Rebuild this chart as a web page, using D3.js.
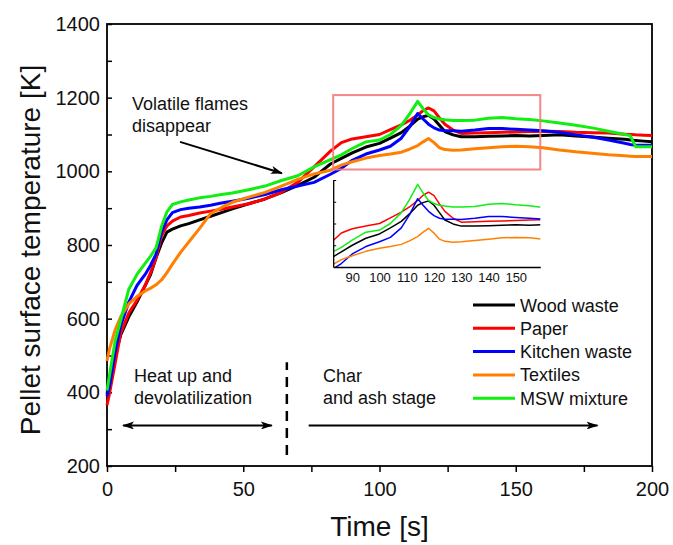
<!DOCTYPE html>
<html><head><meta charset="utf-8">
<script src="https://cdn.jsdelivr.net/npm/d3@7"></script>
<style>
body{margin:0;background:#fff}
svg{display:block}
text{font-family:Arial,"Liberation Sans",sans-serif;fill:#111}
</style>
</head><body>
<svg id="chart" width="673" height="545"></svg>
<script>
// ---- data ----
const times = [0,1,3,5,8,11,14,16,18,20,22,24,27,30,34,38,42,46,52,58,64,70,76,82,86,90,95,100,104,108,111,114,116,118,120,122,124,127,130,135,140,145,150,155,160,166,172,178,184,190,192,194,197,200];
const woodWaste = [395,430,500,555,605,645,690,720,765,805,835,843,852,858,868,878,888,898,912,925,942,962,984,1020,1035,1050,1066,1076,1090,1105,1122,1142,1148,1152,1142,1125,1108,1099,1094,1094,1095,1096,1097,1096,1097,1099,1096,1093,1090,1087,1085,1084,1082,1080];
const paper = [365,400,480,560,615,650,690,725,765,825,852,865,876,880,887,892,897,903,912,925,943,970,1012,1055,1078,1088,1094,1100,1113,1126,1138,1153,1165,1172,1164,1145,1128,1112,1103,1104,1105,1106,1107,1108,1109,1108,1106,1105,1104,1101,1100,1099,1098,1097];
const kitchenWaste = [390,420,510,580,645,690,720,745,775,835,868,888,896,900,903,908,914,919,927,937,950,960,970,992,1008,1030,1047,1058,1068,1090,1120,1157,1142,1128,1118,1112,1110,1110,1109,1112,1116,1116,1114,1112,1110,1106,1099,1093,1085,1076,1073,1071,1071,1071];
const textiles = [485,520,570,605,640,660,675,683,692,705,725,748,780,808,845,885,902,916,930,943,960,978,993,1003,1017,1026,1036,1043,1047,1052,1060,1070,1080,1089,1078,1064,1059,1057,1058,1061,1064,1067,1068,1067,1064,1058,1053,1049,1045,1042,1041,1040,1040,1040];
const mswMixture = [405,450,540,595,680,720,750,770,792,850,890,910,917,922,928,932,937,941,950,960,975,988,1012,1032,1045,1062,1080,1085,1100,1125,1155,1190,1170,1153,1146,1142,1140,1138,1138,1139,1144,1146,1143,1141,1137,1131,1125,1118,1109,1100,1097,1067,1067,1067];

const seriesNames = ["Wood waste","Paper","Kitchen waste","Textiles","MSW mixture"];
const seriesColors = ["#000000","#ff0000","#0000ff","#ff8000","#11ee11"];
const seriesValues = [woodWaste,paper,kitchenWaste,textiles,mswMixture];

const xTickValues = [0,25,50,75,100,125,150,175,200];
const yTickValues = [200,300,400,500,600,700,800,900,1000,1100,1200,1300,1400];
const insetXTicks = [90,100,110,120,130,140,150];
const insetYTicks = [1050,1100,1150,1200];
const zoomTime = [83,159];
const zoomTemp = [1005,1207];
const insetTemp = [1000,1200];

// annotations (data coordinates)
const volatileArrow = [[26.8,1080],[64.2,995]];
const stageDivider = [[66,230],[66,482]];
const heatArrow = [[5.9,310],[60.5,310]];
const charArrow = [[74,310],[180,310]];

// ---- drawing ----
const svg = d3.select("#chart");
const L=107,R=652,T=24,B=466;
const x = d3.scaleLinear().domain([0,200]).range([L,R]);
const y = d3.scaleLinear().domain([200,1400]).range([B,T]);

const defs = svg.append("defs");
function marker(id, orient){
  defs.append("marker").attr("id",id).attr("viewBox","0 0 12 8").attr("refX",11).attr("refY",4)
    .attr("markerWidth",12).attr("markerHeight",8).attr("markerUnits","userSpaceOnUse").attr("orient",orient)
    .append("path").attr("d","M0,0 L12,4 L0,8 L3,4 Z").attr("fill","#000");
}
marker("ah","auto");
marker("ahs","auto-start-reverse");

// axes
const xAxis = d3.axisBottom(x).tickValues(xTickValues).tickSizeInner(6).tickSizeOuter(0).tickPadding(10)
  .tickFormat(d => d%50===0 ? d : "");
const gx = svg.append("g").attr("transform",`translate(0,${B})`).call(xAxis);
gx.select(".domain").remove();
gx.selectAll("line").attr("stroke","#000").attr("stroke-width",1.5);
gx.selectAll("text").attr("font-size",20).attr("fill","#111");

const yAxis = d3.axisLeft(y).tickValues(yTickValues).tickSizeInner(-5).tickSizeOuter(0).tickPadding(7)
  .tickFormat(d => d%200===0 ? d : "");
const gy = svg.append("g").attr("transform",`translate(${L},0)`).call(yAxis);
gy.select(".domain").remove();
gy.selectAll("line").attr("stroke","#000").attr("stroke-width",1.5);
gy.selectAll("text").attr("font-size",20).attr("fill","#111");

svg.append("rect").attr("x",L).attr("y",T).attr("width",R-L).attr("height",B-T)
  .attr("fill","none").attr("stroke","#000").attr("stroke-width",1.8);

// axis titles
svg.append("text").attr("x",(L+R)/2).attr("y",536).attr("text-anchor","middle").attr("font-size",28).text("Time [s]");
svg.append("text").attr("transform",`translate(40,${(T+B)/2+5}) rotate(-90)`).attr("text-anchor","middle")
  .attr("font-size",28).text("Pellet surface temperature [K]");

// main lines
const line = d3.line().x((d,i)=>x(times[i])).y(d=>y(d));
seriesValues.forEach((vals,k)=>{
  svg.append("path").datum(vals).attr("d",line).attr("fill","none")
    .attr("stroke",seriesColors[k]).attr("stroke-width",3).attr("stroke-linejoin","round");
});

// zoom rectangle
svg.append("rect").attr("x",x(zoomTime[0])).attr("y",y(zoomTemp[1]))
  .attr("width",x(zoomTime[1])-x(zoomTime[0])).attr("height",y(zoomTemp[0])-y(zoomTemp[1]))
  .attr("fill","none").attr("stroke","#f47a7a").attr("stroke-width",2).attr("opacity",0.9);

// inset
const xi = d3.scaleLinear().domain(zoomTime).range([x(zoomTime[0]),x(zoomTime[1])]);
const yi = d3.scaleLinear().domain(insetTemp).range([267,180]);
defs.append("clipPath").attr("id","insetClip").append("rect")
  .attr("x",xi(zoomTime[0])).attr("y",yi(insetTemp[1])-2)
  .attr("width",xi(zoomTime[1])-xi(zoomTime[0])).attr("height",yi(insetTemp[0])-yi(insetTemp[1])+2);
const gi = svg.append("g");
const lineI = d3.line().x((d,i)=>xi(times[i])).y(d=>yi(d));
const gl = gi.append("g").attr("clip-path","url(#insetClip)");
seriesValues.forEach((vals,k)=>{
  gl.append("path").datum(vals).attr("d",lineI).attr("fill","none")
    .attr("stroke",seriesColors[k]).attr("stroke-width",1.5).attr("stroke-linejoin","round");
});
const gix = gi.append("g").attr("transform",`translate(0,${yi(insetTemp[0])})`)
  .call(d3.axisBottom(xi).tickValues(insetXTicks).tickSizeInner(0).tickSizeOuter(0).tickPadding(6));
gix.select(".domain").attr("stroke","#000").attr("stroke-width",1.3);
gix.selectAll("text").attr("font-size",13).attr("fill","#111");
const giy = gi.append("g").attr("transform",`translate(${xi(zoomTime[0])},0)`)
  .call(d3.axisLeft(yi).tickValues(insetYTicks).tickSizeInner(-3).tickSizeOuter(0).tickFormat(""));
giy.select(".domain").attr("stroke","#000").attr("stroke-width",1.3);
giy.selectAll("line").attr("stroke","#000").attr("stroke-width",1);

// annotations
const ptLine = d3.line().x(d=>x(d[0])).y(d=>y(d[1]));
svg.append("text").attr("x",132).attr("y",110).attr("font-size",18).text("Volatile flames");
svg.append("text").attr("x",132).attr("y",132).attr("font-size",18).text("disappear");
svg.append("path").datum(volatileArrow).attr("d",ptLine).attr("stroke","#000").attr("stroke-width",2)
  .attr("fill","none").attr("marker-end","url(#ah)");

svg.append("path").datum(stageDivider).attr("d",ptLine).attr("stroke","#000").attr("stroke-width",2.5)
  .attr("stroke-dasharray","10,7").attr("fill","none");

svg.append("text").attr("x",134).attr("y",382).attr("font-size",18).text("Heat up and");
svg.append("text").attr("x",134).attr("y",404).attr("font-size",18).text("devolatilization");
svg.append("path").datum(heatArrow).attr("d",ptLine).attr("stroke","#000").attr("stroke-width",2)
  .attr("fill","none").attr("marker-end","url(#ah)").attr("marker-start","url(#ahs)");

svg.append("text").attr("x",323).attr("y",382).attr("font-size",18).text("Char");
svg.append("text").attr("x",323).attr("y",404).attr("font-size",18).text("and ash stage");
svg.append("path").datum(charArrow).attr("d",ptLine).attr("stroke","#000").attr("stroke-width",2)
  .attr("fill","none").attr("marker-end","url(#ah)");

// legend
const lg = svg.append("g");
seriesNames.forEach((n,k)=>{
  const yy = 305 + k*23.3;
  lg.append("line").attr("x1",473).attr("x2",515).attr("y1",yy).attr("y2",yy)
    .attr("stroke",seriesColors[k]).attr("stroke-width",3);
  lg.append("text").attr("x",520).attr("y",yy+6.5).attr("font-size",18).text(n);
});
</script>
</body></html>
